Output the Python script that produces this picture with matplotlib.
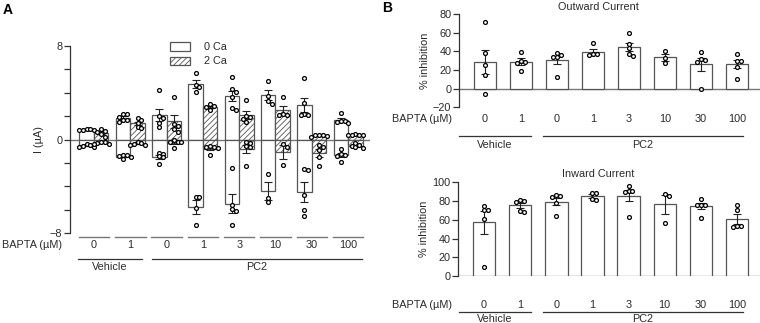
import numpy as np
import matplotlib
matplotlib.use('Agg')
import matplotlib.pyplot as plt
from matplotlib.patches import Rectangle
from matplotlib.transforms import blended_transform_factory

plt.rcParams['font.family'] = ['Liberation Sans', 'DejaVu Sans']
plt.rcParams['font.size'] = 8
plt.rcParams['hatch.color'] = '#6a6a6a'
plt.rcParams['hatch.linewidth'] = 0.6

W, H = 760, 323
FS = 7.8
TXT = '#2a2a2a'

bapta = ['0', '1', '0', '1', '3', '10', '30', '100']

# A: currents (uA) per group, outward (+) and inward (-), 0 Ca and 2 Ca
ca0_out = [[0.9, 0.88, 0.85, 0.8, 0.78],
           [2.2, 2.15, 1.95, 1.7, 1.65, 1.5],
           [4.2, 2.0, 1.8, 1.45, 1.05],
           [5.7, 4.65, 4.45, 4.1],
           [5.36, 4.28, 4.08, 3.6, 2.67, 2.52],
           [5.0, 3.72, 3.32, 3.04],
           [5.26, 3.15, 2.2, 2.1, 2.1],
           [2.24, 1.6, 1.55, 1.5, 1.45]]
ca0_in = [[-0.35, -0.45, -0.55, -0.6, -0.6],
          [-1.3, -1.35, -1.45, -1.5, -1.7],
          [-1.15, -1.2, -1.45, -1.5, -2.1],
          [-4.9, -4.95, -5.84, -7.35],
          [-2.44, -5.64, -5.98, -6.1, -7.35],
          [-2.92, -4.99, -5.36],
          [-2.52, -2.64, -4.74, -6.04, -6.58],
          [-0.82, -1.2, -1.35, -1.4, -1.93]]
ca2_out = [[0.88, 0.77, 0.6, 0.45, 0.25],
           [1.8, 1.65, 1.4, 1.05, 0.95],
           [3.66, 1.3, 1.16, 0.94, 0.68],
           [3.0, 2.9, 2.75, 2.5],
           [3.38, 2.0, 1.9, 1.73, 1.5],
           [3.66, 2.2, 2.1, 2.07],
           [0.4, 0.4, 0.35, 0.3, 0.25],
           [0.45, 0.42, 0.4, 0.38, 0.35]]
ca2_in = [[-0.2, -0.25, -0.3, -0.35, -0.35],
          [-0.25, -0.3, -0.35, -0.45, -0.5],
          [0.0, -0.2, -0.25, -0.25, -0.75],
          [-0.55, -0.6, -0.65, -0.75, -1.35],
          [-0.25, -0.3, -0.55, -0.65, -2.24],
          [-0.37, -0.6, -2.2],
          [-0.45, -0.6, -0.94, -1.53, -2.3],
          [-0.3, -0.45, -0.55, -0.65, -0.74]]

# B: % inhibition
outward = [[71.8, 37.9, 25, 14.3, -5.4],
           [39.6, 30, 29, 28, 18.6],
           [37.9, 36, 34, 33.6, 12.9],
           [48.9, 36.8, 36.8, 36],
           [60, 47.9, 44, 36.8, 35.4],
           [40.7, 32.9, 27.9],
           [38.9, 31.4, 30.7, 28.6, 0],
           [37.1, 29.6, 29.6, 23.6, 10.7]]
inward = [[74.2, 70.7, 70, 60.8, 9.9],
          [81.3, 79.9, 78.5, 69.3, 67.8],
          [86.2, 85.5, 84, 77.4, 64.3],
          [88.7, 88.7, 82, 81.3],
          [95.8, 90.5, 90.5, 90, 62.5],
          [87.6, 85.9, 56.5],
          [82.3, 75.9, 75.9, 75.9, 61.8],
          [75.9, 70, 53, 53, 52.3]]

EDGE = '#555555'
LINE = '#777777'


def fx(px):
    return px / W


def fy(py):
    return 1 - py / H


def swarm(vals, ppu_y, ppu_x, d=3.8):
    # simple beeswarm: nudge points sideways when they overlap
    placed = []
    offs = []
    cands = [0, d, -d, 2 * d, -2 * d, 3 * d, -3 * d]
    for v in vals:
        y = v * ppu_y
        for c in cands:
            if all((c - px) ** 2 + (y - py) ** 2 >= (0.9 * d) ** 2 for px, py in placed):
                break
        placed.append((c, y))
        offs.append(c / ppu_x)
    return np.array(offs)


def mean_sem(v):
    v = np.asarray(v, float)
    return v.mean(), v.std(ddof=1) / np.sqrt(len(v))


def draw_set(ax, x, pts, width, hatch, ppu_y, ppu_x):
    m, s = mean_sem(pts)
    ax.bar(x, m, width, color='white', edgecolor=EDGE, linewidth=0.9, hatch=hatch, zorder=2)
    ax.errorbar(x, m, yerr=s, fmt='none', ecolor='#222222', elinewidth=0.8,
                capsize=2.8, capthick=0.8, zorder=3)
    ax.plot(x + swarm(pts, ppu_y, ppu_x), pts, 'o', ms=2.8, mfc='white', mec='black',
            mew=0.9, zorder=4, clip_on=False)


def group_labels(fig, ax, xs, y_lab, y_line, y_grp, x_left_lab, spans):
    tr = blended_transform_factory(ax.transData, fig.transFigure)
    for x, t in zip(xs, bapta):
        ax.text(x, fy(y_lab), t, transform=tr, ha='center', va='center', fontsize=FS, color=TXT)
    fig.text(fx(x_left_lab), fy(y_lab), 'BAPTA (\u00b5M)', ha='right', va='center', fontsize=FS,
             color=TXT)
    for (a, b, name) in spans:
        fig.add_artist(plt.Line2D([fx(a), fx(b)], [fy(y_line), fy(y_line)], color='#333333', lw=0.9))
        fig.text(fx((a + b) / 2), fy(y_grp), name, ha='center', va='center', fontsize=FS, color=TXT)


def style_axis(ax):
    for k in ['top', 'right', 'bottom']:
        ax.spines[k].set_visible(False)
    ax.spines['left'].set_color('#333333')
    ax.spines['left'].set_linewidth(0.9)
    ax.tick_params(axis='y', length=4, width=0.9, color='#333333', labelsize=FS,
                   labelcolor=TXT, pad=1.5, which='both')
    ax.set_xticks([])


fig = plt.figure(figsize=(7.6, 3.23), dpi=100)

# ---------------- A ----------------
axA = fig.add_axes([fx(70), fy(233), fx(300), (233 - 46) / H])
style_axis(axA)
gx = np.arange(len(bapta))
ppx_a = 36.3
ppy_a = (233 - 46) / 16.0
for i in gx:
    for pts in (ca0_out[i], ca0_in[i]):
        draw_set(axA, i - 0.2, pts, 0.4, None, ppy_a, ppx_a)
    for pts in (ca2_out[i], ca2_in[i]):
        draw_set(axA, i + 0.2, pts, 0.4, '//////', ppy_a, ppx_a)
axA.axhline(0, color=LINE, lw=1.0, zorder=1)
axA.set_xlim(-0.66, -0.66 + 300 / ppx_a)
axA.set_ylim(-8, 8)
axA.set_yticks([-8, 0, 8])
axA.set_yticks([-6, -4, -2, 2, 4, 6], minor=True)
axA.set_ylabel('I (\u00b5A)', fontsize=FS, color=TXT, labelpad=4)
trA = blended_transform_factory(axA.transData, fig.transFigure)
for i in gx:
    axA.add_artist(plt.Line2D([i - 0.42, i + 0.42], [fy(237), fy(237)], transform=trA,
                              color=LINE, lw=1.0, clip_on=False))
group_labels(fig, axA, gx, 245.5, 259, 267, 62,
             [(78, 142, 'Vehicle'), (152, 362, 'PC2')])

# legend
fig.add_artist(Rectangle((fx(170), fy(51)), fx(20), 9 / H, transform=fig.transFigure,
                         facecolor='white', edgecolor=EDGE, lw=0.9))
fig.add_artist(Rectangle((fx(170), fy(65)), fx(20), 8 / H, transform=fig.transFigure,
                         facecolor='white', edgecolor=EDGE, lw=0.9, hatch='//////'))
fig.text(fx(204), fy(46.5), '0 Ca', va='center', fontsize=FS, color=TXT)
fig.text(fx(204), fy(61), '2 Ca', va='center', fontsize=FS, color=TXT)

# ---------------- B ----------------
ppx_b = 35.9


def panel_b(rect, data, ylim, yticks, title, title_y, y_lab, y_line, y_grp, ppy):
    ax = fig.add_axes(rect)
    style_axis(ax)
    for i in gx:
        draw_set(ax, i, data[i], 0.62, None, ppy, ppx_b)
    ax.axhline(0, color=LINE, lw=1.0, zorder=1)
    ax.set_xlim(-0.72, -0.72 + 300 / ppx_b)
    ax.set_ylim(*ylim)
    ax.set_yticks(yticks)
    ax.set_ylabel('% inhibition', fontsize=FS, color=TXT, labelpad=2)
    fig.text(fx(598), fy(title_y), title, ha='center', va='center', fontsize=FS, color=TXT)
    group_labels(fig, ax, gx, y_lab, y_line, y_grp, 452,
                 [(459, 531, 'Vehicle'), (543, 743, 'PC2')])
    return ax


panel_b([fx(459), fy(107.3), fx(301), (107.3 - 14) / H], outward, (-20, 80),
        [-20, 0, 20, 40, 60, 80], 'Outward Current', 7, 118.5, 136, 144.5, 93.3 / 100)
panel_b([fx(458), fy(276), fx(302), (276 - 182.3) / H], inward, (0, 100),
        [0, 20, 40, 60, 80, 100], 'Inward Current', 174, 305.5, 312.3, 318.5, 93.7 / 100)

fig.text(fx(3), fy(10), 'A', fontsize=10, fontweight='bold', va='center')
fig.text(fx(382), fy(8), 'B', fontsize=10, fontweight='bold', va='center')

fig.savefig('out.png', dpi=100)
